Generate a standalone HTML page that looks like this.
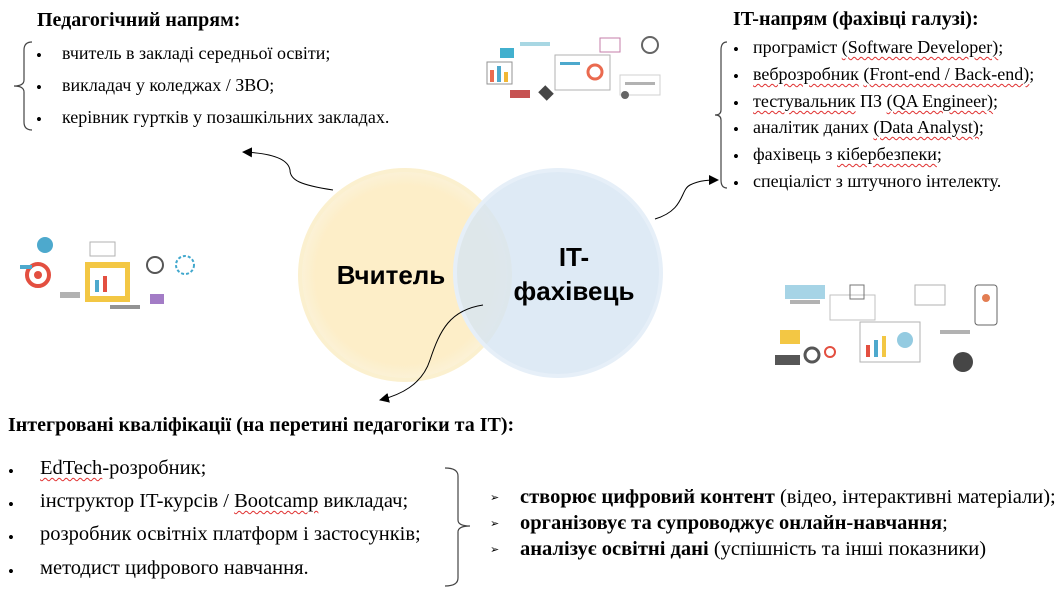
<!DOCTYPE html>
<html><head><meta charset="utf-8"><style>
body{margin:0;width:1058px;height:592px;background:#fff;position:relative;overflow:hidden;font-family:"Liberation Serif",serif;color:#000}
.t{position:absolute;white-space:nowrap;font-size:18px;line-height:20px}
.b{font-weight:bold;font-size:20px}
.l{font-size:20.5px}
.bu{position:absolute;font-size:17px;margin-top:2px}
.u{text-decoration:underline wavy #e03030;text-decoration-thickness:1px;text-underline-offset:3px}
</style></head><body>
<svg width="1058" height="592" style="position:absolute;left:0;top:0">
<defs>
<radialGradient id="gy" cx="50%" cy="50%" r="50%"><stop offset="0.85" stop-color="#fdeec8"/><stop offset="1" stop-color="#fbf2d8"/></radialGradient>
<marker id="ar" markerWidth="12" markerHeight="12" refX="9" refY="6" orient="auto" markerUnits="userSpaceOnUse"><path d="M0,1 L10,6 L0,11 Z" fill="#000"/></marker>
</defs>
<circle cx="405" cy="275" r="105" fill="url(#gy)" stroke="#fbf0cf" stroke-width="4"/>
<circle cx="558" cy="273" r="103" fill="#d6e5f2" fill-opacity="0.8" stroke="#e6eff8" stroke-width="4"/>
<text x="391" y="284" font-family="'Liberation Sans',sans-serif" font-weight="bold" font-size="26" text-anchor="middle">Вчитель</text>
<text x="574" y="266" font-family="'Liberation Sans',sans-serif" font-weight="bold" font-size="26" text-anchor="middle">IT-</text>
<text x="574" y="300" font-family="'Liberation Sans',sans-serif" font-weight="bold" font-size="26" text-anchor="middle">фахівець</text>
<path d="M333,190 C300,185 290,180 290,170 C288,158 270,153 243,152" fill="none" stroke="#000" stroke-width="1" marker-end="url(#ar)"/>
<path d="M655,219 C685,210 680,190 690,185 C700,180 710,180 718,180" fill="none" stroke="#000" stroke-width="1" marker-end="url(#ar)"/>
<path d="M483,305 C450,310 440,330 430,360 C422,385 400,395 380,400" fill="none" stroke="#000" stroke-width="1" marker-end="url(#ar)"/>
<path d="M32,42 Q24,42 24,50 L24,80 Q24,86 14,86 Q24,86 24,92 L24,122 Q24,130 32,130" fill="none" stroke="#444" stroke-width="1.2"/>
<path d="M727,42 Q721,42 721,50 L721,110 Q721,115 715,115 Q721,115 721,120 L721,180 Q721,188 727,188" fill="none" stroke="#444" stroke-width="1.2"/>
<path d="M445,468 Q458,468 458,476 L458,520 Q458,526 470,526 Q458,526 458,532 L458,578 Q458,586 445,586" fill="none" stroke="#444" stroke-width="1.2"/>
<g opacity="0.9">
<rect x="500" y="48" width="14" height="10" fill="#2ea8c9"/><rect x="520" y="42" width="30" height="4" fill="#9fd3e0"/>
<rect x="487" y="62" width="25" height="22" fill="none" stroke="#888"/><rect x="490" y="70" width="4" height="12" fill="#e85a3c"/><rect x="497" y="66" width="4" height="16" fill="#3aa0c8"/><rect x="504" y="72" width="4" height="10" fill="#f0b020"/>
<rect x="555" y="55" width="55" height="35" fill="#fff" stroke="#aaa"/><rect x="560" y="62" width="20" height="3" fill="#3aa0c8"/><circle cx="595" cy="72" r="7" fill="none" stroke="#e85a3c" stroke-width="3"/>
<rect x="600" y="38" width="20" height="14" fill="none" stroke="#c070a0"/><circle cx="650" cy="45" r="8" fill="none" stroke="#555" stroke-width="2"/>
<rect x="540" y="88" width="12" height="10" fill="#333" transform="rotate(45 546 93)"/><rect x="510" y="90" width="20" height="8" fill="#c04040"/>
<rect x="620" y="75" width="40" height="20" fill="#fff" stroke="#ccc"/><rect x="625" y="82" width="30" height="3" fill="#aaa"/><circle cx="625" cy="95" r="4" fill="#555"/>
</g>
<g opacity="0.9">
<circle cx="45" cy="245" r="8" fill="#3aa0c8"/><circle cx="38" cy="275" r="11" fill="none" stroke="#e03c2c" stroke-width="4"/><circle cx="38" cy="275" r="4" fill="#e03c2c"/>
<rect x="20" y="265" width="12" height="4" fill="#3aa0c8"/>
<rect x="85" y="262" width="45" height="40" fill="#f2c230"/><rect x="90" y="268" width="35" height="28" fill="#fff"/><rect x="95" y="280" width="4" height="12" fill="#3aa0c8"/><rect x="103" y="276" width="4" height="16" fill="#e03c2c"/>
<rect x="90" y="242" width="25" height="14" fill="#fff" stroke="#aaa"/><circle cx="155" cy="265" r="8" fill="none" stroke="#444" stroke-width="2"/>
<circle cx="185" cy="265" r="9" fill="none" stroke="#2e9fc8" stroke-width="2" stroke-dasharray="3 2"/>
<rect x="150" y="294" width="14" height="10" fill="#9a6ec0"/><rect x="60" y="292" width="20" height="6" fill="#aaa"/><rect x="110" y="305" width="30" height="4" fill="#888"/>
</g>
<g opacity="0.9">
<rect x="785" y="285" width="40" height="14" fill="#3aa0c8" opacity="0.5"/><rect x="790" y="300" width="30" height="4" fill="#aaa"/>
<rect x="830" y="295" width="45" height="25" fill="#fff" stroke="#bbb"/><rect x="850" y="285" width="14" height="14" fill="none" stroke="#666"/>
<rect x="860" y="322" width="60" height="40" fill="#fff" stroke="#aaa"/><rect x="866" y="345" width="4" height="12" fill="#e03c2c"/><rect x="874" y="340" width="4" height="17" fill="#3aa0c8"/><rect x="882" y="336" width="4" height="21" fill="#f2c230"/><circle cx="905" cy="340" r="8" fill="#3aa0c8" opacity="0.6"/>
<rect x="915" y="285" width="30" height="20" fill="#fff" stroke="#aaa"/><rect x="975" y="285" width="22" height="40" rx="3" fill="#fff" stroke="#555"/><circle cx="986" cy="298" r="4" fill="#e07040"/>
<rect x="780" y="330" width="20" height="14" fill="#f2c230"/><rect x="775" y="355" width="25" height="10" fill="#444"/>
<circle cx="812" cy="355" r="7" fill="none" stroke="#444" stroke-width="3"/><circle cx="830" cy="352" r="5" fill="none" stroke="#e03c2c" stroke-width="2"/>
<circle cx="963" cy="362" r="10" fill="#333"/><rect x="940" y="330" width="30" height="4" fill="#aaa"/>
</g>
</svg>

<div class="t b" style="left:37px;top:10px">Педагогічний напрям:</div>
<div class="bu" style="left:36px;top:44px">•</div><div class="t" style="left:62px;top:43px">вчитель в закладі середньої освіти;</div>
<div class="bu" style="left:36px;top:76px">•</div><div class="t" style="left:62px;top:75px">викладач у коледжах / ЗВО;</div>
<div class="bu" style="left:36px;top:108px">•</div><div class="t" style="left:62px;top:107px">керівник гуртків у позашкільних закладах.</div>

<div class="t b" style="left:733px;top:9px">IT-напрям (фахівці галузі):</div>
<div class="bu" style="left:733px;top:38px">•</div><div class="t" style="left:753px;top:37px">програміст <span class="u">(Software Developer)</span>;</div>
<div class="bu" style="left:733px;top:65px">•</div><div class="t" style="left:753px;top:64px"><span class="u">веброзробник</span> <span class="u">(Front-end / Back-end)</span>;</div>
<div class="bu" style="left:733px;top:92px">•</div><div class="t" style="left:753px;top:91px"><span class="u">тестувальник</span> ПЗ <span class="u">(QA Engineer)</span>;</div>
<div class="bu" style="left:733px;top:118px">•</div><div class="t" style="left:753px;top:117px">аналітик даних <span class="u">(Data Analyst)</span>;</div>
<div class="bu" style="left:733px;top:145px">•</div><div class="t" style="left:753px;top:144px">фахівець з <span class="u">кібербезпеки</span>;</div>
<div class="bu" style="left:733px;top:172px">•</div><div class="t" style="left:753px;top:171px">спеціаліст з штучного інтелекту.</div>

<div class="t b" style="left:8px;top:415px">Інтегровані кваліфікації (на перетині педагогіки та IT):</div>
<div class="bu" style="left:8px;top:460px">•</div><div class="t l" style="left:40px;top:458px"><span class="u">EdTech</span>-розробник;</div>
<div class="bu" style="left:8px;top:493px">•</div><div class="t l" style="left:40px;top:491px">інструктор IT-курсів / <span class="u">Bootcamp</span> викладач;</div>
<div class="bu" style="left:8px;top:526px">•</div><div class="t l" style="left:40px;top:524px">розробник освітніх платформ і застосунків;</div>
<div class="bu" style="left:8px;top:560px">•</div><div class="t l" style="left:40px;top:558px">методист цифрового навчання.</div>

<div class="bu" style="left:490px;top:489px;font-size:11px">➢</div><div class="t l" style="left:520px;top:487px"><b>створює цифровий контент</b> (відео, інтерактивні матеріали);</div>
<div class="bu" style="left:490px;top:515px;font-size:11px">➢</div><div class="t l" style="left:520px;top:513px"><b>організовує та супроводжує онлайн-навчання</b>;</div>
<div class="bu" style="left:490px;top:541px;font-size:11px">➢</div><div class="t l" style="left:520px;top:539px"><b>аналізує освітні дані</b> (успішність та інші показники)</div>
</body></html>
